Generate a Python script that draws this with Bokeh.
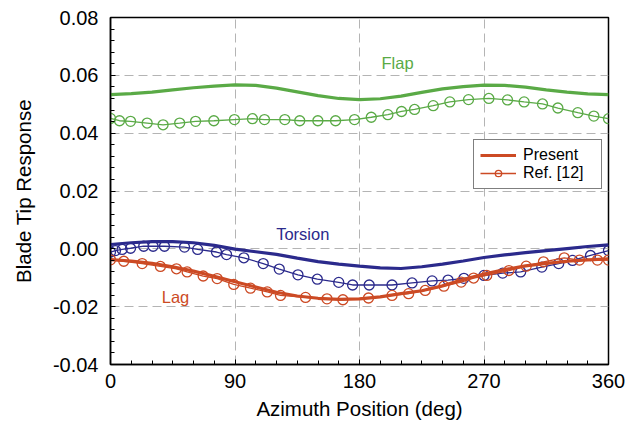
from bokeh.plotting import figure
from bokeh.models import (Legend, LegendItem, NumeralTickFormatter, FixedTicker, Range1d, Label)
from bokeh.embed import file_html
from bokeh.resources import INLINE

# ---------------- data ----------------
az_present = [0, 15, 30, 45, 60, 75, 90, 105, 120, 135, 150, 165, 180,
              195, 210, 225, 240, 255, 270, 285, 300, 315, 330, 345, 360]
flap_present = [0.0533, 0.0537, 0.0542, 0.0550, 0.0557, 0.0563, 0.0567, 0.0565,
                0.0556, 0.0543, 0.0530, 0.0520, 0.0516, 0.0519, 0.0528, 0.0541,
                0.0553, 0.0561, 0.0566, 0.0565, 0.0559, 0.0550, 0.0542, 0.0536, 0.0533]
torsion_present = [0.0015, 0.0021, 0.0025, 0.0025, 0.0021, 0.0012, -0.0001, -0.0010,
                   -0.0019, -0.0032, -0.0044, -0.0053, -0.0060, -0.0066, -0.0068,
                   -0.0062, -0.0053, -0.0042, -0.0030, -0.0021, -0.0013, -0.0006,
                   0.0001, 0.0008, 0.0014]
lag_present = [-0.0037, -0.0042, -0.0050, -0.0062, -0.0077, -0.0095, -0.0114, -0.0132,
               -0.0150, -0.0163, -0.0171, -0.0175, -0.0173, -0.0166, -0.0155, -0.0145,
               -0.0128, -0.0106, -0.0087, -0.0072, -0.0059, -0.0050, -0.0043, -0.0038, -0.0035]

flap_ref_az = [0, 6.5, 14.5, 26.5, 38, 50, 61.5, 74.7, 89.6, 102.6, 111.3, 126, 136.8,
               149.9, 162.7, 176.4, 188.5, 200.5, 210.4, 219.8, 233.3, 245.3, 258.8,
               273.5, 287, 299, 312.3, 323.4, 337.8, 349.4, 360]
flap_ref = [0.0451, 0.0443, 0.0441, 0.0435, 0.0429, 0.0435, 0.0441, 0.0443, 0.0447,
            0.0450, 0.0447, 0.0447, 0.0443, 0.0443, 0.0443, 0.0447, 0.0455, 0.0464,
            0.0475, 0.0482, 0.0495, 0.0508, 0.0516, 0.0520, 0.0515, 0.0508, 0.0501,
            0.0487, 0.0471, 0.0459, 0.0450]

torsion_ref_az = [0, 3.6, 8.4, 14.5, 24, 30.8, 39, 53.5, 63, 76.6, 83.9, 96.4, 110.4,
                  122, 135.5, 149.5, 165, 175, 187, 203.5, 218, 232.5, 244, 255.5, 270,
                  283.5, 296.5, 311.8, 324, 334, 347, 360]
torsion_ref = [-0.0011, -0.0006, -0.0002, 0.0002, 0.0009, 0.0009, 0.0009, 0.0006,
               -0.0002, -0.0011, -0.0020, -0.0031, -0.0051, -0.0070, -0.0090, -0.0105,
               -0.0116, -0.0125, -0.0125, -0.0125, -0.0118, -0.0111, -0.0108, -0.0102,
               -0.0092, -0.0084, -0.0080, -0.0063, -0.0051, -0.0040, -0.0023, -0.0006]

lag_ref_az = [0, 9.6, 22.9, 36.1, 47.7, 55.4, 67, 77.1, 89.1, 101.2, 113.3, 122.9, 141,
              156.5, 168, 186.5, 203.5, 215.5, 227.5, 241, 253.5, 262.5, 272, 288, 300.5,
              313, 328, 339, 352, 360]
lag_ref = [-0.0038, -0.0043, -0.0051, -0.0061, -0.0069, -0.0080, -0.0094, -0.0103,
           -0.0123, -0.0136, -0.0149, -0.0161, -0.0168, -0.0173, -0.0176, -0.0170,
           -0.0161, -0.0155, -0.0144, -0.0129, -0.0115, -0.0101, -0.0092, -0.0075,
           -0.0060, -0.0045, -0.0031, -0.0039, -0.0039, -0.0039]

x_ticks = [0, 90, 180, 270, 360]
y_ticks = [-0.04, -0.02, 0.00, 0.02, 0.04, 0.06, 0.08]

GREEN = "#5aaa46"
NAVY = "#2b2a8c"
RED = "#cc4a24"
FONT = "Liberation Sans"

p = figure(width=628, height=433, output_backend="svg", toolbar_location=None,
           x_range=Range1d(0, 360), y_range=Range1d(-0.04, 0.08),
           min_border_left=110, min_border_right=20, min_border_top=17,
           min_border_bottom=69)
p.background_fill_color = "white"
p.border_fill_color = "white"
p.outline_line_color = "black"
p.outline_line_width = 1.5

# axes
p.xaxis.ticker = FixedTicker(ticks=x_ticks, minor_ticks=list(range(0, 361, 15)))
p.yaxis.ticker = FixedTicker(ticks=y_ticks,
                             minor_ticks=[round(-0.04 + 0.004 * i, 4) for i in range(31)])
p.yaxis.formatter = NumeralTickFormatter(format="0.00")
for ax in (p.xaxis[0], p.yaxis[0]):
    ax.major_tick_in = 5
    ax.major_tick_out = 0
    ax.minor_tick_in = 4
    ax.minor_tick_out = 0
    ax.axis_line_color = "black"
    ax.axis_line_width = 1.5
    ax.major_tick_line_color = "black"
    ax.minor_tick_line_color = "black"
    ax.major_label_text_font = FONT
    ax.major_label_text_font_size = "20px"
    ax.major_label_text_color = "black"
    ax.axis_label_text_font = FONT
    ax.axis_label_text_font_size = "20.5px"
    ax.axis_label_text_font_style = "normal"
    ax.axis_label_text_color = "black"
p.xaxis.axis_label = "Azimuth Position (deg)"
p.yaxis.axis_label = "Blade Tip Response"
p.xaxis.major_label_standoff = 9
p.yaxis.major_label_standoff = 12
p.xaxis.axis_label_standoff = 6
p.yaxis.axis_label_standoff = 15

p.xgrid.grid_line_color = "#b4b4b4"
p.ygrid.grid_line_color = "#b4b4b4"
p.xgrid.grid_line_dash = "9 5"
p.ygrid.grid_line_dash = "9 5"
p.xgrid.grid_line_width = 1
p.ygrid.grid_line_width = 1

# reference data (thin line + hollow circles)
refs = {}
for az, vals, col in ((flap_ref_az, flap_ref, GREEN),
                      (torsion_ref_az, torsion_ref, NAVY),
                      (lag_ref_az, lag_ref, RED)):
    l = p.line(az, vals, line_color=col, line_width=1.3)
    s = p.scatter(az, vals, marker="circle", size=10, fill_color=None,
                  line_color=col, line_width=1.3)
    refs[col] = (l, s)

# present results (thick lines)
pres = {}
for vals, col in ((flap_present, GREEN), (torsion_present, NAVY), (lag_present, RED)):
    pres[col] = p.line(az_present, vals, line_color=col, line_width=3.2)

# curve labels
for txt, x, y, col in (("Flap", 207.5, 0.0641, GREEN),
                       ("Torsion", 139, 0.0053, NAVY),
                       ("Lag", 47, -0.0168, RED)):
    p.add_layout(Label(x=x, y=y, text=txt, text_color=col, text_font=FONT,
                       text_font_size="16.5px", text_align="center",
                       text_baseline="middle"))

legend = Legend(items=[LegendItem(label="Present", renderers=[pres[RED]]),
                       LegendItem(label="Ref. [12]", renderers=list(refs[RED]))],
                location=(363, 175))
legend.label_text_font = FONT
legend.label_text_font_size = "16px"
legend.label_text_color = "black"
legend.border_line_color = "black"
legend.border_line_width = 1.2
legend.background_fill_alpha = 1
legend.glyph_width = 36
legend.glyph_height = 16
legend.label_height = 18
legend.label_width = 72
legend.label_standoff = 7
legend.padding = 6
legend.spacing = 0
legend.margin = 0
p.add_layout(legend, "center")

open("out.html", "w").write(file_html(p, INLINE))
